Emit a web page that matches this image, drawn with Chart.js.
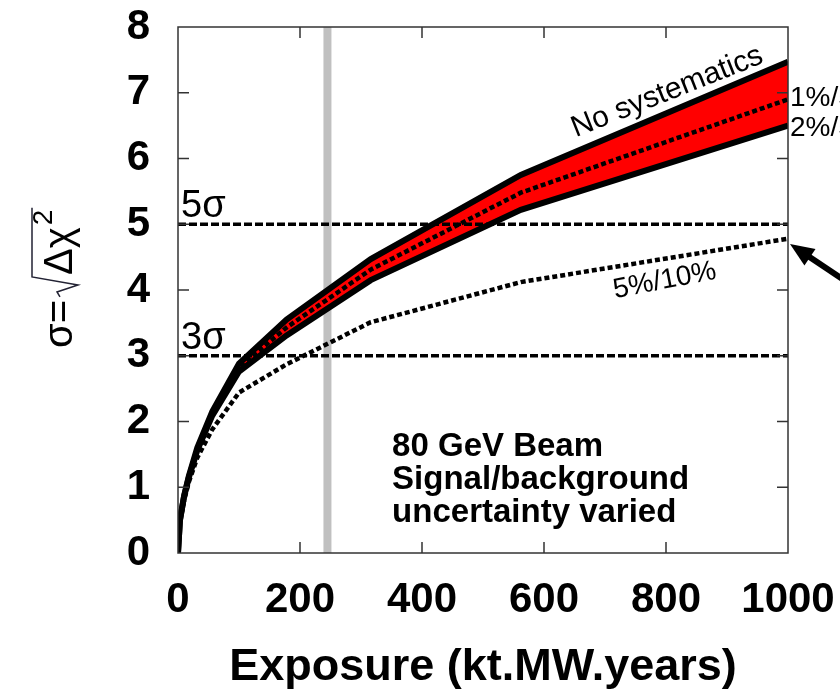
<!DOCTYPE html>
<html>
<head>
<meta charset="utf-8">
<script src="https://cdn.jsdelivr.net/npm/chart.js@4.4.1/dist/chart.umd.min.js"></script>
<style>
  html, body { margin: 0; padding: 0; background: #fff; }
  #wrap { width: 840px; height: 692px; }
</style>
</head>
<body>
<div id="wrap"><canvas id="grafico" width="840" height="692"></canvas></div>
<script>
// exposure in kt.MW.years
const exposure = [0, 3.16, 10, 17.8, 31.6, 56.2, 100, 178, 316, 562, 1000];
// sensitivity sqrt(delta chi2)
const noSyst = [0, 0.50, 0.87, 1.17, 1.60, 2.15, 2.88, 3.55, 4.47, 5.75, 7.47];
const syst1  = [0, 0.50, 0.87, 1.16, 1.58, 2.12, 2.82, 3.43, 4.31, 5.48, 6.90]; // 1%/5%
const syst2  = [0, 0.50, 0.86, 1.15, 1.56, 2.09, 2.76, 3.31, 4.15, 5.22, 6.50]; // 2%/5%
const syst5  = [0, 0.48, 0.80, 1.08, 1.45, 1.88, 2.44, 2.87, 3.51, 4.12, 4.78]; // 5%/10%
const xTicks = [0, 200, 400, 600, 800, 1000];
const yTicks = [0, 1, 2, 3, 4, 5, 6, 7, 8];
const sigmaLevels = [5, 3];
const beamExposure = 245;

const pts = ys => exposure.map((x, i) => ({ x: x, y: ys[i] }));

const datasets = [
  // dashed 5 sigma / 3 sigma lines
  ...sigmaLevels.map(s => ({
    label: s + "σ",
    data: [{ x: 0, y: s }, { x: 1000, y: s }],
    borderColor: "#000",
    borderWidth: 3.5,
    borderDash: [8, 3],
    fill: false
  })),
  { label: "No systematics", data: pts(noSyst), borderColor: "#000", borderWidth: 6, fill: false },
  { label: "2%/5%", data: pts(syst2), borderColor: "#000", borderWidth: 6, fill: false },
  { label: "1%/5%", data: pts(syst1), borderColor: "#000", borderWidth: 4.5, borderDash: [5, 3], fill: false },
  { label: "5%/10%", data: pts(syst5), borderColor: "#000", borderWidth: 4.5, borderDash: [5, 3], fill: false },
  // red band between no systematics and 2%/5%
  { label: "band", data: pts(noSyst), borderWidth: 0, borderColor: "rgba(0,0,0,0)", backgroundColor: "#ff0000", fill: 3 },
  // grey vertical line at 245
  { label: "beam", data: [{ x: beamExposure, y: 0 }, { x: beamExposure, y: 8 }], borderColor: "#c0c0c0", borderWidth: 8, fill: false }
];

const noPad = s => { s.paddingLeft = 0; s.paddingRight = 0; s.paddingTop = 0; s.paddingBottom = 0; };

const annotations = {
  id: "annotations",
  afterDraw(chart) {
    const ctx = chart.ctx;
    const xs = chart.scales.x, ys = chart.scales.y;
    const a = chart.chartArea;
    const X = v => xs.getPixelForValue(v), Y = v => ys.getPixelForValue(v);

    ctx.save();
    // frame
    ctx.strokeStyle = "#333";
    ctx.lineWidth = 1.5;
    ctx.strokeRect(a.left, a.top, a.right - a.left, a.bottom - a.top);
    // inward ticks
    ctx.beginPath();
    xTicks.slice(1, -1).forEach(v => {
      ctx.moveTo(X(v), a.bottom); ctx.lineTo(X(v), a.bottom - 11);
      ctx.moveTo(X(v), a.top); ctx.lineTo(X(v), a.top + 11);
    });
    yTicks.slice(1, -1).forEach(v => {
      ctx.moveTo(a.left, Y(v)); ctx.lineTo(a.left + 11, Y(v));
      ctx.moveTo(a.right, Y(v)); ctx.lineTo(a.right - 11, Y(v));
    });
    ctx.stroke();

    ctx.fillStyle = "#000";
    ctx.textBaseline = "alphabetic";

    // sigma labels
    ctx.font = '38px "Liberation Sans"';
    ctx.textAlign = "left";
    sigmaLevels.forEach(s => ctx.fillText(s + "σ", a.left + 3, Y(s) - 7));

    // curve labels
    ctx.save();
    ctx.translate(X(802), Y(7.01));
    ctx.rotate(-21.6 * Math.PI / 180);
    ctx.font = '30px "Liberation Sans"';
    ctx.textAlign = "center";
    ctx.textBaseline = "middle";
    ctx.fillText("No systematics", 0, 0);
    ctx.restore();

    ctx.save();
    ctx.translate(X(798), Y(4.14));
    ctx.rotate(-11 * Math.PI / 180);
    ctx.font = '28px "Liberation Sans"';
    ctx.textAlign = "center";
    ctx.textBaseline = "middle";
    ctx.fillText("5%/10%", 0, 0);
    ctx.restore();

    ctx.font = '28px "Liberation Sans"';
    ctx.textAlign = "left";
    ctx.fillText("1%/5%", a.right + 2, 106);
    ctx.fillText("2%/5%", a.right + 2, 136);

    // arrow pointing to the 5%/10% end
    const tipX = a.right + 2, tipY = Y(4.7);
    const ang = Math.atan2(40, 60);
    ctx.strokeStyle = "#000";
    ctx.lineWidth = 6;
    ctx.beginPath();
    ctx.moveTo(tipX + 14 * Math.cos(ang), tipY + 14 * Math.sin(ang));
    ctx.lineTo(tipX + 90 * Math.cos(ang), tipY + 90 * Math.sin(ang));
    ctx.stroke();
    ctx.beginPath();
    ctx.moveTo(tipX, tipY);
    const hl = 24, hw = 10;
    const bx = tipX + hl * Math.cos(ang), by = tipY + hl * Math.sin(ang);
    ctx.lineTo(bx - hw * Math.sin(ang), by + hw * Math.cos(ang));
    ctx.lineTo(bx + hw * Math.sin(ang), by - hw * Math.cos(ang));
    ctx.closePath();
    ctx.fill();

    // info box
    ctx.font = 'bold 33px "Liberation Sans"';
    ctx.textAlign = "left";
    ["80 GeV Beam", "Signal/background", "uncertainty varied"].forEach((t, i) => {
      ctx.fillText(t, X(351), 456 + i * 33);
    });

    // x title
    ctx.font = 'bold 45px "Liberation Sans"';
    ctx.textAlign = "center";
    ctx.fillText("Exposure (kt.MW.years)", (a.left + a.right) / 2, 680);

    // y title: sigma = sqrt(delta chi^2)
    ctx.save();
    ctx.translate(72, 348);
    ctx.rotate(-Math.PI / 2);
    ctx.textAlign = "left";
    ctx.font = '40px "Liberation Sans"';
    ctx.fillText("σ=", 0, 0);
    const w1 = ctx.measureText("σ=").width;
    const r0 = w1 + 3;
    const w2 = ctx.measureText("Δχ").width;
    ctx.fillText("Δχ", r0 + 22, 0);
    ctx.font = '28px "Liberation Sans"';
    const w3 = ctx.measureText("2").width;
    ctx.fillText("2", r0 + 24 + w2, -20);
    ctx.strokeStyle = "#223";
    ctx.lineWidth = 1.5;
    ctx.beginPath();
    ctx.moveTo(r0, -12);
    ctx.lineTo(r0 + 5, -15);
    ctx.lineTo(r0 + 12, 6);
    ctx.lineTo(r0 + 20, -40);
    ctx.lineTo(r0 + 26 + w2 + w3, -40);
    ctx.stroke();
    ctx.restore();

    ctx.restore();
  }
};

const ctx = document.getElementById("grafico").getContext("2d");
new Chart(ctx, {
  type: "line",
  data: { datasets: datasets },
  options: {
    responsive: false,
    animation: false,
    events: [],
    layout: { padding: { top: 27, right: 52, left: 0, bottom: 0 } },
    elements: {
      point: { radius: 0 },
      line: { tension: 0, borderCapStyle: "butt" }
    },
    plugins: {
      legend: { display: false },
      tooltip: { enabled: false },
      filler: { drawTime: "beforeDatasetDraw" }
    },
    scales: {
      x: {
        type: "linear",
        min: 0,
        max: 1000,
        afterBuildTicks: s => { s.ticks = xTicks.map(v => ({ value: v })); },
        afterFit: s => { s.height = 139; noPad(s); },
        grid: { display: false, drawTicks: false },
        border: { display: false },
        ticks: { color: "#000", padding: 22, callback: v => String(v), font: { family: "Liberation Sans", size: 42, weight: "bold" } }
      },
      y: {
        type: "linear",
        min: 0,
        max: 8,
        afterBuildTicks: s => { s.ticks = yTicks.map(v => ({ value: v })); },
        afterFit: s => { s.width = 178; noPad(s); },
        grid: { display: false, drawTicks: false },
        border: { display: false },
        ticks: { color: "#000", padding: 28, callback: v => String(v), font: { family: "Liberation Sans", size: 42, weight: "bold" } }
      }
    }
  },
  plugins: [annotations]
});
</script>
</body>
</html>
